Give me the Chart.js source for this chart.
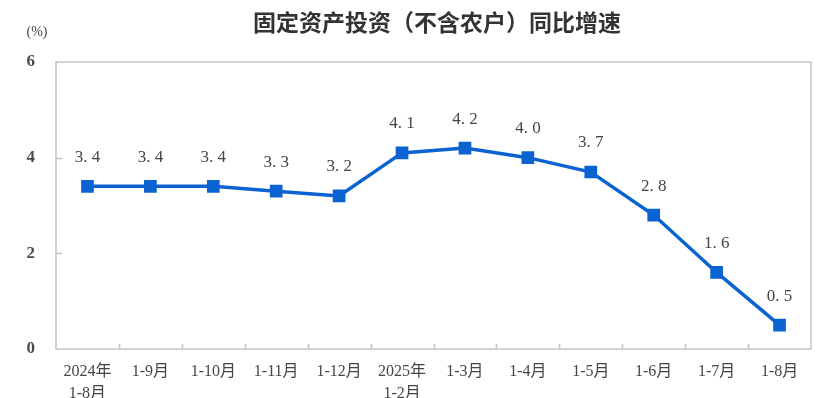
<!DOCTYPE html>
<html><head><meta charset="utf-8">
<script src="https://cdn.jsdelivr.net/npm/chart.js@4.4.0/dist/chart.umd.min.js"></script>
<style>html,body{margin:0;padding:0;background:#fff;}#wrap{width:830px;height:398px;}</style>
</head><body><div id="wrap"><canvas id="c" width="830" height="398"></canvas></div>
<script>
const categories = [["2024年","1-8月"],"1-9月","1-10月","1-11月","1-12月",["2025年","1-2月"],"1-3月","1-4月","1-5月","1-6月","1-7月","1-8月"];
const growth = [3.4,3.4,3.4,3.3,3.2,4.1,4.2,4.0,3.7,2.8,1.6,0.5];
const yTicks = [0,2,4,6];
const titleText = "固定资产投资（不含农户）同比增速";
const unitText = "(%)";

const serif = "'Liberation Serif','DejaVu Serif','Noto Sans CJK SC',serif";
const textColor = "#4a4440";

const decor = {
  id:'decor',
  afterDraw(chart){
    const ctx = chart.ctx, a = chart.chartArea, y = chart.scales.y;
    ctx.save();
    // frame
    ctx.strokeStyle = '#c4c4c4'; ctx.lineWidth = 1.5;
    ctx.strokeRect(a.left, a.top, a.right - a.left, a.bottom - a.top);
    // x ticks between categories, pointing up
    const n = categories.length;
    const step = (a.right - a.left) / n;
    ctx.beginPath();
    for (let i = 1; i < n; i++) {
      const px = Math.round(a.left + step * i) + 0.5;
      ctx.moveTo(px, a.bottom); ctx.lineTo(px, a.bottom - 5);
    }
    // y ticks pointing inward
    yTicks.forEach(v => {
      if (v === 0 || v === 6) return;
      const py = Math.round(y.getPixelForValue(v)) + 0.5;
      ctx.moveTo(a.left, py); ctx.lineTo(a.left + 6, py);
    });
    ctx.stroke();
    // title
    ctx.fillStyle = '#333';
    ctx.font = "bold 23px 'Noto Sans CJK SC'";
    ctx.textAlign = 'center'; ctx.textBaseline = 'middle';
    ctx.fillText(titleText, 437, 22);
    ctx.font = "14px " + serif;
    ctx.fillStyle = textColor;
    ctx.fillText(unitText, 37, 32);
    // data labels
    ctx.font = "17px " + serif;
    ctx.fillStyle = textColor;
    const meta = chart.getDatasetMeta(0);
    meta.data.forEach((pt, i) => {
      const s = growth[i].toFixed(1).replace('.', '. ');
      ctx.fillText(s, pt.x, pt.y - 29);
    });
    ctx.restore();
  }
};

new Chart(document.getElementById('c'), {
  type: 'line',
  data: {
    labels: categories,
    datasets: [{
      data: growth,
      borderColor: '#0b63d1',
      backgroundColor: '#0b63d1',
      borderWidth: 3.5,
      pointStyle: 'rect',
      pointRadius: 6.5,
      pointHoverRadius: 6.5,
      tension: 0
    }]
  },
  options: {
    responsive: false,
    animation: false,
    layout: { padding: { top: 62, right: 19, left: 0, bottom: 0 } },
    plugins: { legend: { display: false }, title: { display: false }, tooltip: { enabled: false } },
    scales: {
      x: {
        offset: true,
        grid: { display: false },
        border: { display: false },
        ticks: { color: textColor, font: { family: serif, size: 16, lineHeight: 1.35 }, maxRotation: 0, autoSkip: false, padding: 4 },
        afterFit(s){ s.height = 49; }
      },
      y: {
        min: 0, max: 6,
        afterBuildTicks(s){ s.ticks = yTicks.map(v => ({ value: v })); },
        grid: { display: false },
        border: { display: false },
        ticks: { color: '#4a4a55', font: { family: serif, size: 17, weight: 'bold' }, padding: 13 },
        afterFit(s){ s.width = 56; }
      }
    }
  },
  plugins: [decor]
});
</script>
</body></html>
